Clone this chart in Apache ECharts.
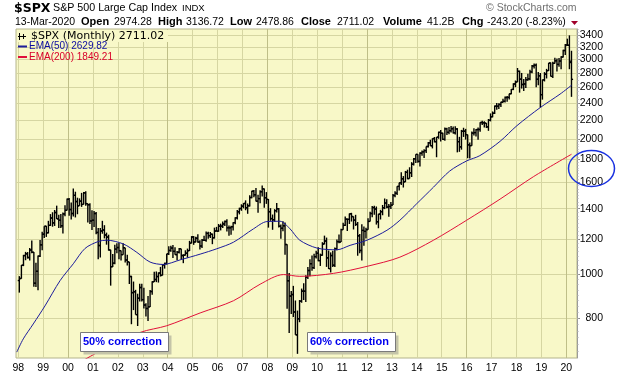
<!DOCTYPE html>
<html>
<head>
<meta charset="utf-8">
<script src="https://cdn.jsdelivr.net/npm/echarts@6/dist/echarts.min.js"></script>
</head>
<body style="margin: 0; background: #fff">
<div id="container" style="width: 620px; height: 376px"></div>
<script type="text/javascript">
    // monthly bars, Jan 1998 .. Mar 2020
    var startYear = 1998;
    var opens = [
        970, 980, 1049, 1102, 1112, 1091, 1134, 1121, 957, 1017, 1099, 1164,
        1229, 1280, 1238, 1286, 1335, 1302, 1373, 1329, 1320, 1283, 1363, 1389,
        1469, 1394, 1366, 1499, 1452, 1421, 1455, 1431, 1518, 1437, 1429, 1315,
        1320, 1366, 1240, 1160, 1249, 1256, 1224, 1211, 1134, 1041, 1060, 1139,
        1148, 1130, 1107, 1147, 1077, 1067, 990, 912, 916, 815, 886, 936,
        880, 856, 841, 848, 917, 964, 975, 990, 1008, 996, 1051, 1058,
        1112, 1131, 1145, 1126, 1107, 1121, 1141, 1102, 1104, 1115, 1130, 1174,
        1212, 1181, 1204, 1181, 1157, 1192, 1191, 1234, 1220, 1229, 1207, 1249,
        1248, 1280, 1281, 1295, 1311, 1270, 1270, 1277, 1304, 1336, 1378, 1401,
        1418, 1438, 1407, 1421, 1482, 1531, 1503, 1455, 1474, 1527, 1549, 1481,
        1468, 1379, 1331, 1323, 1386, 1400, 1280, 1267, 1283, 1166, 969, 896,
        903, 826, 735, 798, 873, 919, 919, 987, 1021, 1057, 1036, 1096,
        1115, 1074, 1104, 1169, 1187, 1089, 1031, 1102, 1049, 1141, 1183, 1181,
        1258, 1286, 1327, 1326, 1364, 1345, 1321, 1292, 1219, 1131, 1253, 1247,
        1258, 1312, 1366, 1408, 1398, 1310, 1362, 1379, 1407, 1441, 1412, 1416,
        1426, 1498, 1515, 1569, 1598, 1631, 1606, 1686, 1633, 1682, 1757, 1806,
        1848, 1783, 1859, 1872, 1884, 1924, 1960, 1931, 2003, 1972, 2018, 2068,
        2059, 1995, 2105, 2068, 2086, 2107, 2063, 2104, 1972, 1920, 2079, 2080,
        2044, 1940, 1932, 2060, 2065, 2097, 2099, 2174, 2171, 2168, 2126, 2199,
        2239, 2279, 2364, 2363, 2384, 2412, 2423, 2470, 2472, 2519, 2575, 2648,
        2674, 2824, 2714, 2641, 2648, 2705, 2718, 2816, 2902, 2914, 2712, 2760,
        2507, 2704, 2784, 2834, 2946, 2752, 2942, 2980, 2926, 2977, 3038, 3141,
        3231, 3226, 2974
    ];
    var highs = [
        992, 1050, 1106, 1123, 1122, 1145, 1190, 1122, 1062, 1103, 1193, 1245,
        1280, 1283, 1316, 1362, 1375, 1391, 1422, 1357, 1363, 1374, 1425, 1474,
        1478, 1445, 1553, 1527, 1481, 1476, 1518, 1525, 1531, 1437, 1440, 1389,
        1384, 1377, 1268, 1269, 1316, 1287, 1239, 1226, 1135, 1111, 1164, 1173,
        1176, 1131, 1174, 1147, 1107, 1067, 994, 965, 925, 907, 954, 954,
        935, 864, 896, 924, 966, 1015, 1016, 1011, 1040, 1054, 1063, 1112,
        1155, 1159, 1163, 1150, 1128, 1146, 1141, 1109, 1132, 1142, 1188, 1217,
        1217, 1213, 1229, 1192, 1199, 1219, 1246, 1245, 1243, 1233, 1271, 1276,
        1295, 1297, 1311, 1318, 1327, 1285, 1283, 1307, 1340, 1390, 1407, 1432,
        1441, 1461, 1438, 1499, 1535, 1541, 1556, 1504, 1539, 1576, 1553, 1524,
        1471, 1404, 1359, 1397, 1441, 1405, 1292, 1313, 1304, 1167, 1008, 919,
        944, 876, 832, 878, 931, 957, 996, 1040, 1081, 1102, 1112, 1130,
        1150, 1113, 1180, 1220, 1208, 1131, 1120, 1130, 1149, 1196, 1227, 1263,
        1303, 1345, 1332, 1366, 1371, 1346, 1357, 1308, 1230, 1293, 1278, 1270,
        1333, 1378, 1420, 1422, 1416, 1364, 1392, 1427, 1475, 1470, 1434, 1448,
        1510, 1531, 1570, 1598, 1687, 1654, 1698, 1709, 1730, 1776, 1813, 1849,
        1850, 1867, 1884, 1897, 1924, 1968, 1991, 2006, 2019, 2019, 2076, 2093,
        2064, 2120, 2117, 2126, 2135, 2130, 2133, 2113, 2021, 2094, 2117, 2105,
        2044, 1963, 2076, 2112, 2103, 2121, 2178, 2194, 2188, 2169, 2214, 2278,
        2301, 2372, 2401, 2399, 2419, 2454, 2484, 2491, 2519, 2582, 2657, 2695,
        2873, 2835, 2801, 2717, 2742, 2791, 2848, 2917, 2941, 2940, 2815, 2800,
        2708, 2813, 2860, 2949, 2954, 2964, 3028, 3014, 3022, 3050, 3154, 3248,
        3337, 3394, 3137
    ];
    var lows = [
        912, 979, 1044, 1076, 1085, 1074, 1115, 940, 939, 923, 1094, 1133,
        1205, 1212, 1234, 1282, 1277, 1282, 1328, 1268, 1268, 1233, 1347, 1387,
        1350, 1325, 1346, 1339, 1361, 1421, 1413, 1431, 1421, 1305, 1294, 1255,
        1275, 1228, 1081, 1091, 1232, 1203, 1165, 1130, 945, 1040, 1054, 1115,
        1081, 1074, 1107, 1063, 1048, 953, 776, 834, 815, 769, 872, 872,
        841, 807, 789, 847, 902, 963, 962, 960, 990, 996, 1031, 1053,
        1105, 1124, 1088, 1107, 1076, 1113, 1078, 1060, 1102, 1090, 1128, 1173,
        1164, 1180, 1176, 1137, 1146, 1188, 1183, 1201, 1206, 1168, 1202, 1246,
        1245, 1253, 1268, 1282, 1246, 1219, 1225, 1253, 1293, 1325, 1360, 1385,
        1403, 1389, 1364, 1416, 1476, 1484, 1453, 1371, 1439, 1490, 1407, 1435,
        1271, 1316, 1257, 1310, 1373, 1272, 1201, 1248, 1107, 840, 742, 818,
        805, 735, 667, 784, 866, 878, 869, 978, 991, 1020, 1029, 1085,
        1071, 1045, 1101, 1167, 1040, 1029, 1011, 1040, 1040, 1132, 1173, 1181,
        1257, 1282, 1249, 1295, 1311, 1259, 1282, 1101, 1115, 1075, 1159, 1202,
        1258, 1312, 1340, 1358, 1291, 1267, 1325, 1354, 1397, 1403, 1343, 1398,
        1426, 1485, 1502, 1536, 1581, 1560, 1604, 1627, 1633, 1646, 1746, 1768,
        1770, 1737, 1834, 1815, 1860, 1915, 1930, 1905, 1964, 1821, 2001, 1973,
        1988, 1981, 2040, 2048, 2067, 2056, 2044, 1867, 1872, 1893, 2020, 1993,
        1812, 1810, 1932, 2034, 2025, 1992, 2075, 2147, 2120, 2114, 2084, 2187,
        2233, 2271, 2322, 2329, 2353, 2405, 2407, 2418, 2447, 2511, 2566, 2605,
        2673, 2533, 2586, 2553, 2594, 2691, 2699, 2796, 2864, 2604, 2631, 2347,
        2444, 2682, 2723, 2830, 2751, 2729, 2940, 2822, 2892, 2856, 3030, 3070,
        3214, 2855, 2479
    ];
    var closes = [
        980, 1049, 1102, 1112, 1091, 1134, 1121, 957, 1017, 1099, 1164, 1229,
        1280, 1238, 1286, 1335, 1302, 1373, 1329, 1320, 1283, 1363, 1389, 1469,
        1394, 1366, 1499, 1452, 1421, 1455, 1431, 1518, 1437, 1429, 1315, 1320,
        1366, 1240, 1160, 1249, 1256, 1224, 1211, 1134, 1041, 1060, 1139, 1148,
        1130, 1107, 1147, 1077, 1067, 990, 912, 916, 815, 886, 936, 880,
        856, 841, 848, 917, 964, 975, 990, 1008, 996, 1051, 1058, 1112,
        1131, 1145, 1126, 1107, 1121, 1141, 1102, 1104, 1115, 1130, 1174, 1212,
        1181, 1204, 1181, 1157, 1192, 1191, 1234, 1220, 1229, 1207, 1249, 1248,
        1280, 1281, 1295, 1311, 1270, 1270, 1277, 1304, 1336, 1378, 1401, 1418,
        1438, 1407, 1421, 1482, 1531, 1503, 1455, 1474, 1527, 1549, 1481, 1468,
        1379, 1331, 1323, 1386, 1400, 1280, 1267, 1283, 1166, 969, 896, 903,
        826, 735, 798, 873, 919, 919, 987, 1021, 1057, 1036, 1096, 1115,
        1074, 1104, 1169, 1187, 1089, 1031, 1102, 1049, 1141, 1183, 1181, 1258,
        1286, 1327, 1326, 1364, 1345, 1321, 1292, 1219, 1131, 1253, 1247, 1258,
        1312, 1366, 1408, 1398, 1310, 1362, 1379, 1407, 1441, 1412, 1416, 1426,
        1498, 1515, 1569, 1598, 1631, 1606, 1686, 1633, 1682, 1757, 1806, 1848,
        1783, 1859, 1872, 1884, 1924, 1960, 1931, 2003, 1972, 2018, 2068, 2059,
        1995, 2105, 2068, 2086, 2107, 2063, 2104, 1972, 1920, 2079, 2080, 2044,
        1940, 1932, 2060, 2065, 2097, 2099, 2174, 2171, 2168, 2126, 2199, 2239,
        2279, 2364, 2363, 2384, 2412, 2423, 2470, 2472, 2519, 2575, 2648, 2674,
        2824, 2714, 2641, 2648, 2705, 2718, 2816, 2902, 2914, 2712, 2760, 2507,
        2704, 2784, 2834, 2946, 2752, 2942, 2980, 2926, 2977, 3038, 3141, 3231,
        3226, 2954, 2711
    ];

    // moving averages (decimal year, value)
    var ema50Years = [1997.94, 1998.2, 1998.6, 1999.07, 1999.68, 2000.21, 2000.68, 2001.21, 2001.55, 2002.22,
        2002.76, 2003.29, 2003.82, 2004.5, 2005.3, 2005.97, 2006.64, 2007.44, 2007.98, 2008.51,
        2008.91, 2009.3, 2009.99, 2010.79, 2011.32, 2012.0, 2012.8, 2013.32, 2014.0, 2014.67,
        2015.32, 2016.0, 2016.53, 2017.34, 2018.02, 2018.95, 2019.75, 2020.21];
    var ema50 = [673, 720, 777, 852, 970, 1057, 1143, 1184, 1192, 1169,
        1120, 1066, 1053, 1078, 1110, 1141, 1180, 1263, 1311, 1313,
        1263, 1192, 1145, 1135, 1161, 1192, 1254, 1320, 1437, 1563,
        1697, 1787, 1836, 1975, 2140, 2346, 2514, 2630];
    var ema200Years = [2000.5, 2001.21, 2002.89, 2003.96, 2005.3, 2006.64, 2007.71, 2008.65, 2009.3,
        2010.65, 2012.0, 2013.32, 2014.67, 2016.0, 2017.34, 2018.69, 2020.21];
    var ema200 = [640, 673, 744, 770, 822, 875, 952, 1000, 991,
        1006, 1043, 1093, 1192, 1320, 1470, 1650, 1849];

    var yearTicks = [1998, 1999, 2000, 2001, 2002, 2003, 2004, 2005, 2006, 2007, 2008, 2009,
        2010, 2011, 2012, 2013, 2014, 2015, 2016, 2017, 2018, 2019, 2020];
    var priceTicks = [800, 1000, 1200, 1400, 1600, 1800, 2000, 2200, 2400, 2600, 2800, 3000, 3200, 3400];

    var sans = 'Liberation Sans, Arial, sans-serif';
    var dom = document.getElementById("container");
    var myChart = echarts.init(dom);

    var ohlc = closes.map(function (c, i) {
        return [startYear + (i + 0.5) / 12, Math.log10(opens[i]), Math.log10(highs[i]), Math.log10(lows[i]), Math.log10(c)];
    });
    var ema50Data = ema50.map(function (v, i) { return [ema50Years[i], Math.log10(v)]; });
    var ema200Data = ema200.map(function (v, i) { return [ema200Years[i], Math.log10(v)]; });

    var majorLogs = priceTicks.map(function (v) { return Math.log10(v); });
    var minorLogs = [];
    for (var p = 675; p <= 3500; p += (p < 2000 ? 25 : 50)) {
        minorLogs.push(Math.log10(p));
    }

    function renderBar(params, api) {
        var t = api.value(0);
        var o = api.coord([t, api.value(1)]);
        var h = api.coord([t, api.value(2)]);
        var l = api.coord([t, api.value(3)]);
        var c = api.coord([t, api.value(4)]);
        var x = o[0];
        var st = { stroke: '#000', lineWidth: 1.4 };
        return {
            type: 'group',
            children: [
                { type: 'line', shape: { x1: x, y1: h[1], x2: x, y2: l[1] }, style: st },
                { type: 'line', shape: { x1: x - 1.6, y1: o[1], x2: x, y2: o[1] }, style: st },
                { type: 'line', shape: { x1: x, y1: c[1], x2: x + 1.6, y2: c[1] }, style: st }
            ]
        };
    }

    var row2 = [
        ['13-Mar-2020', 15, false], ['Open', 81, true], ['2974.28', 114, false],
        ['High', 158, true], ['3136.72', 186, false], ['Low', 230, true], ['2478.86', 256, false],
        ['Close', 301, true], ['2711.02', 337, false], ['Volume', 383, true], ['41.2B', 427, false],
        ['Chg', 462, true], ['-243.20 (-8.23%)', 487, false]
    ];

    var graphics = [
        { type: 'text', left: 14, top: 2, style: { text: '$SPX', font: 'bold 12.5px "DejaVu Sans", sans-serif', fill: '#000' } },
        { type: 'text', x: 53, y: 8.5, style: { text: 'S&P 500 Large Cap Index', font: '10.7px ' + sans, fill: '#000', verticalAlign: 'middle' } },
        { type: 'text', x: 182, y: 8.7, style: { text: 'INDX', font: '9.5px ' + sans, fill: '#000', verticalAlign: 'middle' } },
        { type: 'text', x: 486, y: 8, style: { text: '\u00a9 StockCharts.com', font: '10.5px ' + sans, fill: '#707070', verticalAlign: 'middle' } },
        { type: 'polygon', shape: { points: [[571, 21], [578, 21], [574.5, 25]] }, style: { fill: '#A0002A' } },
        // legend
        { type: 'rect', shape: { x: 17, y: 30, width: 151, height: 12 }, style: { fill: '#F8F8C8' }, z: 10 },
        { type: 'line', shape: { x1: 19.5, y1: 33, x2: 19.5, y2: 40 }, style: { stroke: '#000', lineWidth: 1 }, z: 11 },
        { type: 'line', shape: { x1: 23.5, y1: 34, x2: 23.5, y2: 39 }, style: { stroke: '#000', lineWidth: 1 }, z: 11 },
        { type: 'line', shape: { x1: 18, y1: 36.5, x2: 26, y2: 36.5 }, style: { stroke: '#000', lineWidth: 1 }, z: 11 },
        { type: 'text', x: 31, y: 36, style: { text: '$SPX (Monthly) 2711.02', font: '11px "DejaVu Sans", sans-serif', fill: '#000', verticalAlign: 'middle' }, z: 11 },
        { type: 'line', shape: { x1: 18, y1: 46.5, x2: 27, y2: 46.5 }, style: { stroke: '#1c1c9c', lineWidth: 2 }, z: 11 },
        { type: 'text', x: 29, y: 46.5, style: { text: 'EMA(50) 2629.82', font: '10px ' + sans, fill: '#0c0ca0', verticalAlign: 'middle' }, z: 11 },
        { type: 'line', shape: { x1: 18, y1: 57, x2: 27, y2: 57 }, style: { stroke: '#e0103a', lineWidth: 2 }, z: 11 },
        { type: 'text', x: 29, y: 57, style: { text: 'EMA(200) 1849.21', font: '10px ' + sans, fill: '#d8002a', verticalAlign: 'middle' }, z: 11 },
        // callouts
        { type: 'rect', shape: { x: 83.5, y: 335.5, width: 88, height: 19 }, style: { fill: '#c4c4a8' }, z: 20 },
        { type: 'rect', shape: { x: 80.5, y: 332.5, width: 88, height: 19 }, style: { fill: '#fff', stroke: '#7a7a7a', lineWidth: 1 }, z: 21 },
        { type: 'text', x: 83, y: 342, style: { text: '50% correction', font: 'bold 11px ' + sans, fill: '#0000ee', verticalAlign: 'middle' }, z: 22 },
        { type: 'rect', shape: { x: 310.5, y: 335.5, width: 88, height: 19 }, style: { fill: '#c4c4a8' }, z: 20 },
        { type: 'rect', shape: { x: 307.5, y: 332.5, width: 88, height: 19 }, style: { fill: '#fff', stroke: '#7a7a7a', lineWidth: 1 }, z: 21 },
        { type: 'text', x: 310, y: 342, style: { text: '60% correction', font: 'bold 11px ' + sans, fill: '#0000ee', verticalAlign: 'middle' }, z: 22 },
        { type: 'ellipse', shape: { cx: 591.5, cy: 168.5, rx: 23, ry: 18 }, style: { fill: null, stroke: '#1830e0', lineWidth: 1.5 }, z: 30 }
    ];
    row2.forEach(function (r) {
        graphics.push({
            type: 'text', x: r[1], y: 22.3,
            style: { text: r[0], font: (r[2] ? 'bold 11px ' : '10.5px ') + sans, fill: '#000', verticalAlign: 'middle' }
        });
    });

    var option = {
        animation: false,
        backgroundColor: '#fff',
        grid: {
            left: 16, right: 43, top: 29, bottom: 18,
            show: true, backgroundColor: '#F8F8C8', borderColor: '#B4B48C', borderWidth: 1
        },
        xAxis: {
            type: 'value',
            min: 1997.908,
            max: 2020.43,
            axisLine: { show: false },
            axisTick: { show: false, customValues: yearTicks },
            axisLabel: {
                customValues: yearTicks,
                formatter: function (v) { return String(Math.round(v)).slice(2); },
                fontSize: 10.5, fontFamily: sans, color: '#000', margin: 5
            },
            splitLine: {
                show: true,
                lineStyle: { color: ['#D6D6A2', '#D6D6A2', '#BFBF88', '#D6D6A2'], width: 1 }
            }
        },
        yAxis: [{
            type: 'value',
            position: 'right',
            min: Math.log10(653),
            max: Math.log10(3506),
            axisLine: { show: true, lineStyle: { color: '#9a9a9a' } },
            axisTick: { show: true, customValues: majorLogs, length: 3, lineStyle: { color: '#888' } },
            axisLabel: {
                customValues: majorLogs,
                formatter: function (v) { return String(Math.round(Math.pow(10, v))); },
                align: 'right', margin: 26,
                fontSize: 10.5, fontFamily: sans, color: '#000'
            },
            splitLine: { show: true, lineStyle: { color: '#D6D6A2', width: 1 } }
        }, {
            type: 'value',
            position: 'right',
            min: Math.log10(653),
            max: Math.log10(3506),
            axisLine: { show: false },
            axisTick: { show: true, customValues: minorLogs, length: 1.5, lineStyle: { color: '#aaa' } },
            axisLabel: { show: false },
            splitLine: { show: false }
        }],
        series: [{
            type: 'custom',
            renderItem: renderBar,
            data: ohlc,
            encode: { x: 0, y: [1, 2, 3, 4] },
            clip: true,
            z: 2
        }, {
            type: 'line',
            data: ema50Data,
            showSymbol: false,
            smooth: 0.3,
            lineStyle: { color: '#1c1c9c', width: 1 },
            z: 3
        }, {
            type: 'line',
            data: ema200Data,
            showSymbol: false,
            smooth: 0.3,
            lineStyle: { color: '#e0103a', width: 1 },
            z: 3
        }],
        graphic: graphics
    };

    if (option && typeof option === "object") {
        myChart.setOption(option, true);
    }
</script>
</body>
</html>
